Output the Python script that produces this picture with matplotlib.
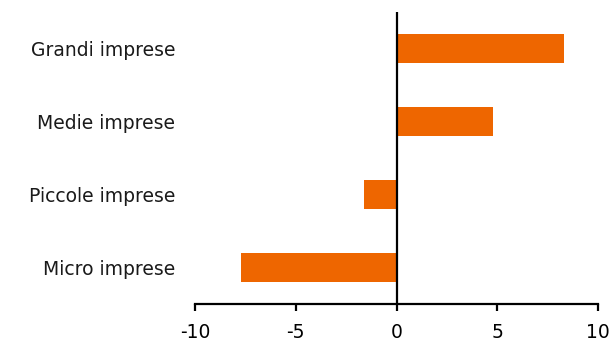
import matplotlib.pyplot as plt

# Data
categories = ["Micro imprese", "Piccole imprese", "Medie imprese", "Grandi imprese"]
values = [-7.7, -1.6, 4.8, 8.3]
x_ticks = [-10, -5, 0, 5, 10]

plt.rcParams['font.family'] = ['DejaVu Sans']

fig = plt.figure(figsize=(6.11, 3.40), dpi=100)
ax = fig.add_axes([0.319, 0.106, 0.66, 0.859])

# bars
ax.barh(range(len(categories)), values, height=0.4, color="#EE6600")

# vertical zero line
ax.axvline(0, color="black", lw=1.6, zorder=3)

ax.set_xlim(-10, 10)
ax.set_ylim(-0.5, 3.5)
ax.set_xticks(x_ticks)
ax.set_xticklabels([str(t) for t in x_ticks])
ax.set_yticks(range(len(categories)))
ax.set_yticklabels(categories)

for s in ["top", "right", "left"]:
    ax.spines[s].set_visible(False)
ax.spines["bottom"].set_linewidth(1.6)

ax.tick_params(axis="x", direction="out", length=5, width=1.6, labelsize=13.5, pad=9, colors="black")
ax.tick_params(axis="y", length=0, labelsize=13.5, pad=14, colors="#1a1a1a")

fig.savefig("out.png", dpi=100)
